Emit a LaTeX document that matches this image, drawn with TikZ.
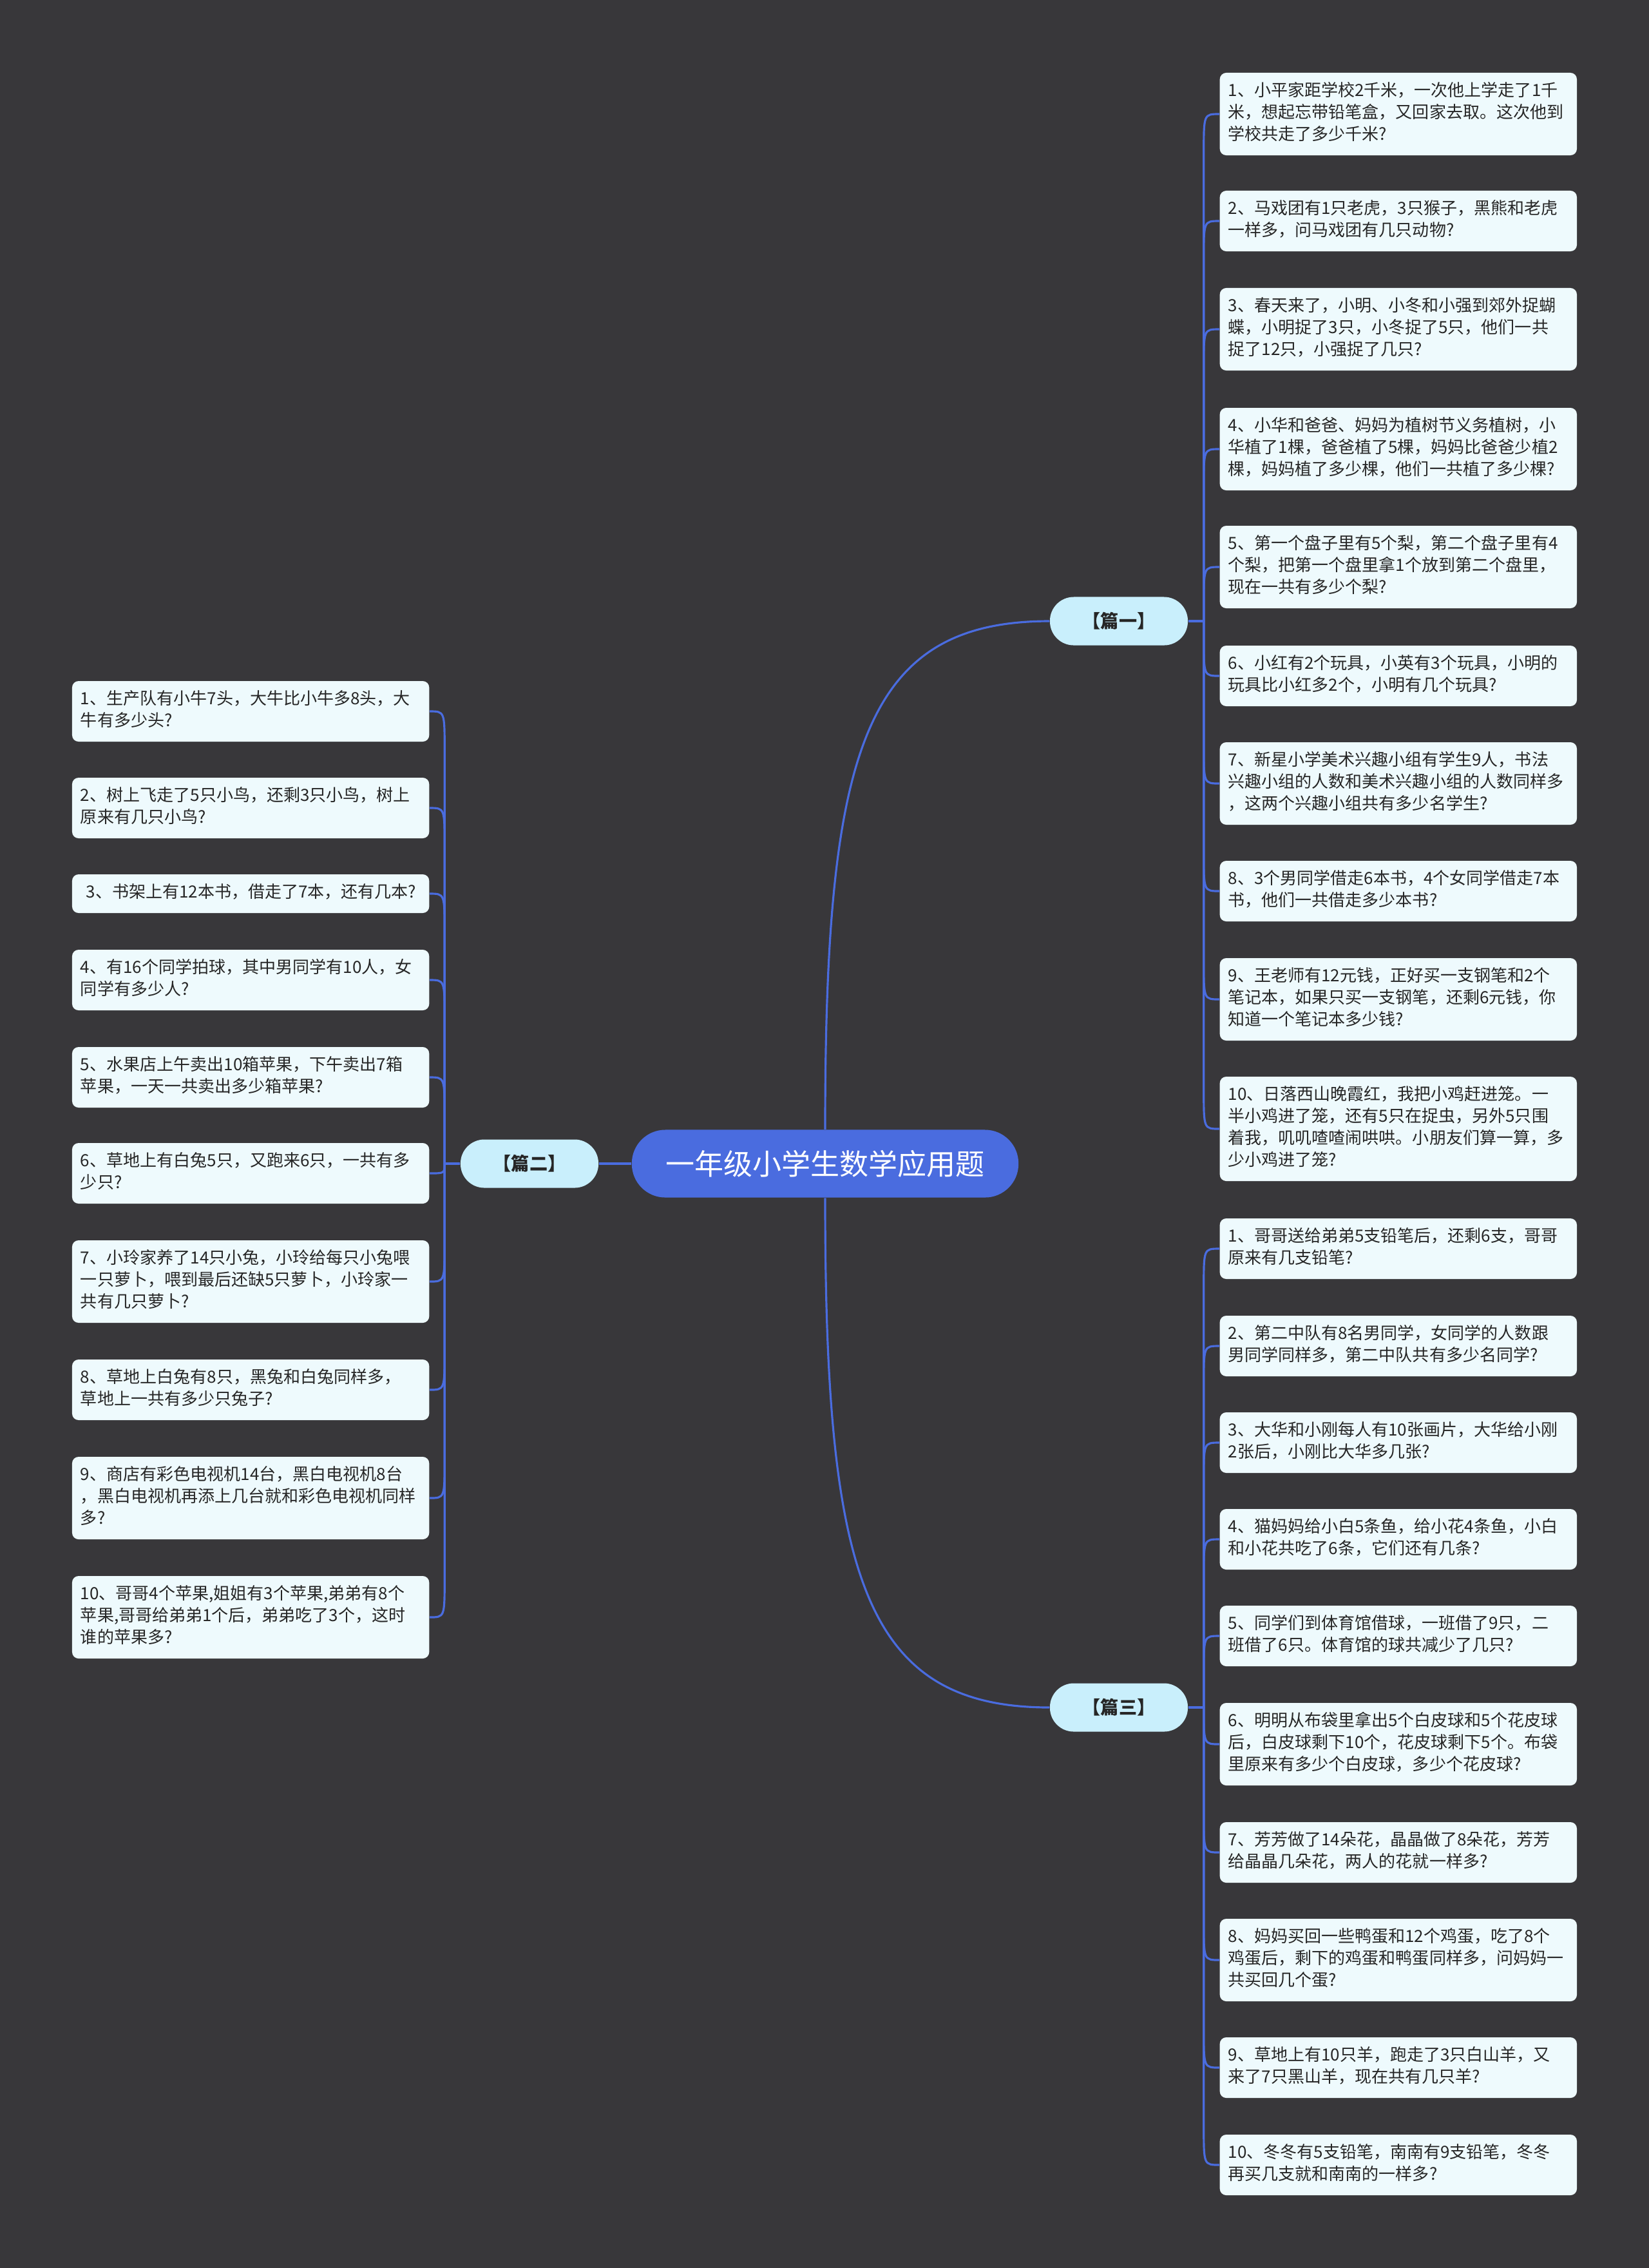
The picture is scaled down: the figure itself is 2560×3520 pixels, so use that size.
\documentclass[tikz,border=0pt]{standalone}
\usepackage{fontspec}
\setmainfont{Noto Sans CJK SC}
\usepackage{xcolor}
\usepackage{tikz}
\usetikzlibrary{positioning,calc}
\definecolor{Board}{HTML}{38373A}
\definecolor{Royal}{HTML}{4A6CDF}
\definecolor{Sky}{HTML}{C9EFFC}
\definecolor{Paper}{HTML}{EEFAFD}
\definecolor{Ink}{HTML}{262626}
\tikzset{
  root/.style={rounded corners=0.52cm,fill=Royal,text=white,minimum width=6cm,minimum height=1.05cm,font=\fontsize{12.8}{15}\selectfont},
  part/.style={rounded corners=0.37cm,fill=Sky,text=Ink,minimum width=2.14cm,minimum height=0.75cm,font=\fontsize{8}{10}\selectfont\bfseries},
  leaf/.style={rounded corners=0.1cm,fill=Paper,text=Ink,text width=5.28cm,inner xsep=0.13cm,inner ysep=0.13cm,align=left,font=\fontsize{7.4}{9.67}\selectfont,execute at begin node=\strut,execute at end node=\strut},
  link/.style={draw=Royal,line width=0.9pt}
}

\begin{document}
\begin{tikzpicture}[x=0.01cm,y=-0.01cm]
  \fill[Board] (0,0) rectangle (2560,3520);
  \useasboundingbox (0,0) rectangle (2560,3520);

  \node[root] (root) at (1281,1806) {一年级小学生数学应用题};
  \node[part] (p1) at (1737,964) {【篇一】};
  \node[part] (p2) at (822,1806) {【篇二】};
  \node[part] (p3) at (1737,2650) {【篇三】};

  \draw[link] (root.north) .. controls +(0,-584) and +(-290,0) .. (p1.west);
  \draw[link] (root.south) .. controls +(0,584) and +(-290,0) .. (p3.west);
  \draw[link] (root.west) -- (p2.east);

  \draw[link] (p1.east) -- ++(24,0) coordinate (j1);
  \draw[link] (p2.west) -- ++(-24,0) coordinate (j2);
  \draw[link] (p3.east) -- ++(24,0) coordinate (j3);

  % 篇一
  \foreach \i/\y/\txt in {
    1/177/{1、小平家距学校2千米，一次他上学走了1千\\米，想起忘带铅笔盒，又回家去取。这次他到\\学校共走了多少千米?},
    2/343/{2、马戏团有1只老虎，3只猴子，黑熊和老虎\\一样多，问马戏团有几只动物?},
    3/511/{3、春天来了，小明、小冬和小强到郊外捉蝴\\蝶，小明捉了3只，小冬捉了5只，他们一共\\捉了12只，小强捉了几只?},
    4/697/{4、小华和爸爸、妈妈为植树节义务植树，小\\华植了1棵，爸爸植了5棵，妈妈比爸爸少植2\\棵，妈妈植了多少棵，他们一共植了多少棵?},
    5/880/{5、第一个盘子里有5个梨，第二个盘子里有4\\个梨，把第一个盘里拿1个放到第二个盘里，\\现在一共有多少个梨?},
    6/1049/{6、小红有2个玩具，小英有3个玩具，小明的\\玩具比小红多2个，小明有几个玩具?},
    7/1216/{7、新星小学美术兴趣小组有学生9人，书法\\兴趣小组的人数和美术兴趣小组的人数同样多\\，这两个兴趣小组共有多少名学生?},
    8/1383/{8、3个男同学借走6本书，4个女同学借走7本\\书，他们一共借走多少本书?},
    9/1551/{9、王老师有12元钱，正好买一支钢笔和2个\\笔记本，如果只买一支钢笔，还剩6元钱，你\\知道一个笔记本多少钱?},
    10/1752/{10、日落西山晚霞红，我把小鸡赶进笼。一\\半小鸡进了笼，还有5只在捉虫，另外5只围\\着我，叽叽喳喳闹哄哄。小朋友们算一算，多\\少小鸡进了笼?}} {
    \node[leaf,anchor=west] (a\i) at (1893,\y) {\txt};
    \pgfmathsetmacro\d{(\y<964) ? min(60,964-\y) : -min(60,\y-964)}
    \draw[link] (j1) -- ($(j1 |- a\i.west)+(0,\d)$) .. controls (j1 |- a\i.west) .. (a\i.west);
  }

  % 篇二
  \foreach \i/\y/\txt in {
    1/1104/{1、生产队有小牛7头，大牛比小牛多8头，大\\牛有多少头?},
    2/1254/{2、树上飞走了5只小鸟，还剩3只小鸟，树上\\原来有几只小鸟?},
    3/1387/{\ 3、书架上有12本书，借走了7本，还有几本?},
    4/1521/{4、有16个同学拍球，其中男同学有10人，女\\同学有多少人?},
    5/1672/{5、水果店上午卖出10箱苹果，下午卖出7箱\\苹果，一天一共卖出多少箱苹果?},
    6/1821/{6、草地上有白兔5只，又跑来6只，一共有多\\少只?},
    7/1989/{7、小玲家养了14只小兔，小玲给每只小兔喂\\一只萝卜，喂到最后还缺5只萝卜，小玲家一\\共有几只萝卜?},
    8/2157/{8、草地上白兔有8只，黑兔和白兔同样多，\\草地上一共有多少只兔子?},
    9/2325/{9、商店有彩色电视机14台，黑白电视机8台\\，黑白电视机再添上几台就和彩色电视机同样\\多?},
    10/2510/{10、哥哥4个苹果,姐姐有3个苹果,弟弟有8个\\苹果,哥哥给弟弟1个后，弟弟吃了3个，这时\\谁的苹果多?}} {
    \node[leaf,anchor=east] (b\i) at (667,\y) {\txt};
    \pgfmathsetmacro\d{(\y<1806) ? min(60,1806-\y) : -min(60,\y-1806)}
    \draw[link] (j2) -- ($(j2 |- b\i.east)+(0,\d)$) .. controls (j2 |- b\i.east) .. (b\i.east);
  }

  % 篇三
  \foreach \i/\y/\txt in {
    1/1938/{1、哥哥送给弟弟5支铅笔后，还剩6支，哥哥\\原来有几支铅笔?},
    2/2089/{2、第二中队有8名男同学，女同学的人数跟\\男同学同样多，第二中队共有多少名同学?},
    3/2239/{3、大华和小刚每人有10张画片，大华给小刚\\2张后，小刚比大华多几张?},
    4/2389/{4、猫妈妈给小白5条鱼，给小花4条鱼，小白\\和小花共吃了6条，它们还有几条?},
    5/2539/{5、同学们到体育馆借球，一班借了9只，二\\班借了6只。体育馆的球共减少了几只?},
    6/2707/{6、明明从布袋里拿出5个白皮球和5个花皮球\\后，白皮球剩下10个，花皮球剩下5个。布袋\\里原来有多少个白皮球，多少个花皮球?},
    7/2875/{7、芳芳做了14朵花，晶晶做了8朵花，芳芳\\给晶晶几朵花，两人的花就一样多?},
    8/3042/{8、妈妈买回一些鸭蛋和12个鸡蛋，吃了8个\\鸡蛋后，剩下的鸡蛋和鸭蛋同样多，问妈妈一\\共买回几个蛋?},
    9/3209/{9、草地上有10只羊，跑走了3只白山羊，又\\来了7只黑山羊，现在共有几只羊?},
    10/3360/{10、冬冬有5支铅笔，南南有9支铅笔，冬冬\\再买几支就和南南的一样多?}} {
    \node[leaf,anchor=west] (c\i) at (1893,\y) {\txt};
    \pgfmathsetmacro\d{(\y<2650) ? min(60,2650-\y) : -min(60,\y-2650)}
    \draw[link] (j3) -- ($(j3 |- c\i.west)+(0,\d)$) .. controls (j3 |- c\i.west) .. (c\i.west);
  }
\end{tikzpicture}
\end{document}
